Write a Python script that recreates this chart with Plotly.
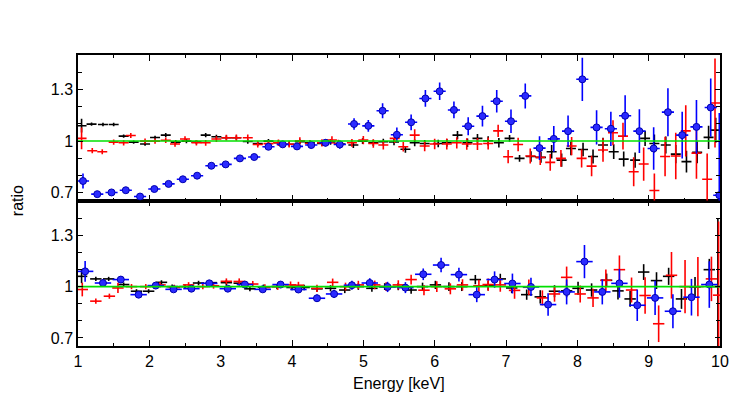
import plotly.graph_objects as go

# ---------------- top panel data ----------------
top_black_e = [1.05, 1.19, 1.35, 1.50, 1.64, 1.78, 1.94, 2.08, 2.23, 2.37, 2.52, 2.66, 2.79, 2.94, 3.08, 3.22,
               3.38, 3.52, 3.67, 3.81, 3.96, 4.11, 4.25, 4.42, 4.54, 4.68, 4.86, 4.99, 5.14, 5.28, 5.43, 5.59,
               5.72, 5.86, 6.05, 6.17, 6.32, 6.46, 6.60, 6.75, 6.90, 7.05, 7.19, 7.35, 7.49, 7.64, 7.78, 7.91,
               8.08, 8.22, 8.36, 8.51, 8.65, 8.81, 8.95, 9.08, 9.24, 9.38, 9.53, 9.68, 9.84, 9.94]
top_black_v = [1.090, 1.099, 1.097, 1.097, 1.029, 0.994, 0.983, 1.021, 1.035, 0.994, 1.000, 0.994, 1.035, 1.025, 1.020, 1.020,
               0.998, 0.985, 1.000, 0.990, 0.982, 0.996, 0.990, 0.986, 0.995, 0.983, 0.977, 1.000, 0.990, 0.996, 0.995, 0.952,
               0.990, 0.986, 0.986, 0.990, 1.035, 0.990, 1.016, 1.002, 0.990, 1.016, 0.899, 0.910, 0.905, 0.938, 0.889, 0.957,
               0.951, 0.910, 0.977, 0.938, 0.895, 0.889, 1.016, 0.986, 0.977, 0.924, 0.880, 0.934, 1.022, 1.064]
top_black_err = [0.04, 0.01, 0.01, 0.01, 0.01, 0.01, 0.01, 0.01, 0.012, 0.012, 0.012, 0.012, 0.012, 0.012, 0.012, 0.012,
                 0.013, 0.013, 0.013, 0.013, 0.014, 0.014, 0.015, 0.015, 0.016, 0.016, 0.017, 0.017, 0.018, 0.018, 0.019, 0.02,
                 0.02, 0.021, 0.022, 0.023, 0.024, 0.025, 0.026, 0.027, 0.028, 0.02, 0.02, 0.03, 0.032, 0.039, 0.039, 0.04,
                 0.04, 0.041, 0.042, 0.043, 0.044, 0.045, 0.044, 0.053, 0.05, 0.053, 0.063, 0.063, 0.068, 0.073]

top_red_e = [1.05, 1.20, 1.34, 1.50, 1.64, 1.74, 1.94, 2.08, 2.23, 2.36, 2.50, 2.66, 2.79, 2.94, 3.08, 3.22,
             3.38, 3.52, 3.67, 3.81, 3.96, 4.11, 4.25, 4.42, 4.56, 4.65, 4.84, 5.00, 5.14, 5.28, 5.44, 5.56,
             5.72, 5.86, 6.00, 6.17, 6.31, 6.45, 6.60, 6.75, 6.89, 7.03, 7.17, 7.34, 7.48, 7.62, 7.77, 7.92,
             8.06, 8.20, 8.36, 8.50, 8.64, 8.79, 8.93, 9.08, 9.23, 9.38, 9.52, 9.67, 9.82, 9.93]
top_red_v = [1.016, 0.944, 0.938, 0.994, 0.990, 1.033, 1.000, 1.000, 1.005, 0.983, 1.012, 0.990, 0.990, 1.012, 1.020, 1.020,
             1.020, 0.980, 0.985, 0.990, 0.982, 1.002, 0.986, 0.990, 1.006, 0.986, 0.990, 1.006, 0.986, 0.977, 1.016, 0.967,
             1.035, 0.971, 0.983, 0.983, 0.990, 0.983, 0.983, 0.986, 1.060, 0.909, 0.980, 0.913, 0.905, 0.876, 0.899, 0.971,
             0.899, 0.854, 0.948, 1.049, 1.029, 0.821, 0.866, 0.711, 0.910, 0.913, 1.060, 0.930, 0.777, 1.223]
top_red_err = [0.063, 0.015, 0.015, 0.015, 0.015, 0.015, 0.015, 0.015, 0.016, 0.016, 0.016, 0.016, 0.017, 0.017, 0.017, 0.018,
               0.018, 0.018, 0.019, 0.019, 0.02, 0.02, 0.021, 0.021, 0.022, 0.022, 0.023, 0.024, 0.025, 0.026, 0.027, 0.028,
               0.034, 0.03, 0.031, 0.032, 0.033, 0.034, 0.035, 0.035, 0.036, 0.039, 0.039, 0.044, 0.045, 0.049, 0.049, 0.053,
               0.053, 0.06, 0.068, 0.073, 0.078, 0.085, 0.097, 0.1, 0.116, 0.136, 0.15, 0.15, 0.15, 0.26]

top_blue_e = [1.07, 1.27, 1.47, 1.67, 1.87, 2.07, 2.27, 2.47, 2.67, 2.87, 3.07, 3.27, 3.47, 3.67, 3.87, 4.07,
              4.27, 4.47, 4.67, 4.87, 5.07, 5.27, 5.47, 5.67, 5.87, 6.07, 6.27, 6.47, 6.67, 6.87, 7.07, 7.27,
              7.47, 7.67, 7.87, 8.07, 8.27, 8.47, 8.67, 8.87, 9.07, 9.27, 9.47, 9.67, 9.87, 9.99]
top_blue_v = [0.767, 0.690, 0.700, 0.713, 0.676, 0.720, 0.750, 0.777, 0.798, 0.856, 0.864, 0.899, 0.907, 0.967, 0.981, 0.969,
              0.977, 0.990, 0.980, 1.100, 1.089, 1.177, 1.037, 1.110, 1.249, 1.291, 1.182, 1.087, 1.146, 1.233, 1.116, 1.264,
              0.959, 1.013, 1.058, 1.361, 1.080, 1.072, 1.148, 1.058, 0.957, 1.169, 1.035, 1.083, 1.196, 0.684]
top_blue_err = [0.044, 0.012, 0.012, 0.012, 0.012, 0.012, 0.012, 0.013, 0.013, 0.014, 0.014, 0.015, 0.015, 0.016, 0.017, 0.02,
                0.02, 0.022, 0.024, 0.034, 0.034, 0.044, 0.042, 0.046, 0.049, 0.051, 0.049, 0.053, 0.06, 0.066, 0.068, 0.073,
                0.07, 0.075, 0.092, 0.126, 0.1, 0.1, 0.12, 0.128, 0.124, 0.14, 0.136, 0.157, 0.17, 0.48]

# ---------------- bottom panel data ----------------
bot_black_e = [1.05, 1.25, 1.43, 1.64, 1.82, 1.99, 2.17, 2.32, 2.50, 2.69, 2.87, 3.08, 3.26, 3.41, 3.60, 3.79,
               4.00, 4.17, 4.35, 4.54, 4.74, 4.93, 5.12, 5.30, 5.49, 5.67, 5.83, 6.01, 6.20, 6.38, 6.57, 6.75,
               6.92, 7.08, 7.29, 7.48, 7.68, 7.85, 8.01, 8.20, 8.41, 8.57, 8.74, 8.93, 9.11, 9.28, 9.46, 9.65,
               9.85, 9.97]
bot_black_v = [1.060, 1.045, 1.045, 1.012, 0.973, 0.973, 1.025, 1.000, 1.000, 1.021, 1.023, 1.023, 1.020, 0.987, 0.997, 1.000,
               0.995, 0.995, 0.987, 0.990, 0.980, 1.000, 0.990, 1.000, 1.000, 0.980, 1.000, 1.010, 1.000, 1.000, 1.041, 1.005,
               1.045, 0.992, 0.953, 0.940, 0.973, 0.975, 0.990, 0.980, 1.037, 0.975, 0.928, 1.085, 1.035, 1.060, 0.928, 0.998,
               1.099, 1.000]
bot_black_err = [0.04, 0.012, 0.012, 0.012, 0.012, 0.012, 0.012, 0.012, 0.013, 0.013, 0.013, 0.014, 0.014, 0.014, 0.015, 0.015,
                 0.016, 0.016, 0.017, 0.018, 0.018, 0.019, 0.02, 0.02, 0.021, 0.022, 0.023, 0.024, 0.025, 0.026, 0.027, 0.028,
                 0.03, 0.03, 0.03, 0.039, 0.035, 0.037, 0.038, 0.039, 0.039, 0.05, 0.046, 0.046, 0.049, 0.05, 0.058, 0.058,
                 0.063, 0.4]

bot_red_e = [1.06, 1.25, 1.44, 1.56, 1.75, 1.95, 2.15, 2.35, 2.55, 2.75, 2.90, 3.08, 3.26, 3.45, 3.62, 3.80,
             3.98, 4.09, 4.35, 4.57, 4.75, 4.93, 5.16, 5.32, 5.49, 5.67, 5.85, 6.03, 6.22, 6.39, 6.62, 6.75,
             6.92, 7.12, 7.32, 7.51, 7.68, 7.85, 8.04, 8.22, 8.40, 8.59, 8.76, 8.95, 9.14, 9.32, 9.51, 9.69,
             9.88, 9.98]
bot_red_v = [0.983, 0.915, 0.944, 0.992, 1.000, 1.000, 1.010, 0.995, 1.010, 1.000, 1.005, 1.031, 1.030, 1.015, 0.995, 1.000,
             1.010, 1.008, 0.990, 1.025, 1.000, 1.010, 1.010, 1.000, 1.010, 1.041, 0.979, 1.000, 0.987, 1.010, 1.005, 1.012,
             1.010, 0.978, 0.996, 0.934, 0.957, 1.054, 0.957, 0.934, 1.037, 1.099, 0.980, 0.948, 0.783, 1.066, 1.000, 1.000,
             1.045, 0.950]
bot_red_err = [0.04, 0.015, 0.015, 0.03, 0.015, 0.015, 0.015, 0.016, 0.016, 0.016, 0.017, 0.017, 0.018, 0.018, 0.019, 0.019,
               0.02, 0.02, 0.021, 0.022, 0.023, 0.024, 0.025, 0.026, 0.027, 0.028, 0.03, 0.031, 0.032, 0.033, 0.035, 0.036,
               0.04, 0.049, 0.045, 0.044, 0.045, 0.063, 0.05, 0.053, 0.063, 0.083, 0.073, 0.107, 0.107, 0.136, 0.155, 0.173,
               0.13, 0.43]

bot_blue_e = [1.10, 1.35, 1.60, 1.85, 2.09, 2.34, 2.59, 2.84, 3.10, 3.34, 3.59, 3.84, 4.09, 4.35, 4.59, 4.84,
              5.09, 5.34, 5.59, 5.84, 6.09, 6.34, 6.59, 6.84, 7.09, 7.35, 7.59, 7.85, 8.10, 8.35, 8.59, 8.84,
              9.09, 9.34, 9.60, 9.85]
bot_blue_v = [1.089, 1.021, 1.041, 0.953, 1.006, 0.984, 0.988, 1.019, 0.988, 1.012, 0.984, 1.012, 0.983, 0.932, 0.957, 1.008,
              1.021, 0.998, 0.994, 1.072, 1.126, 1.070, 0.953, 1.041, 1.018, 0.998, 0.895, 0.969, 1.146, 0.969, 1.019, 0.891,
              0.934, 0.856, 0.938, 1.012]
bot_blue_err = [0.061, 0.02, 0.02, 0.015, 0.015, 0.015, 0.015, 0.016, 0.016, 0.017, 0.017, 0.018, 0.02, 0.022, 0.024, 0.026,
                0.028, 0.03, 0.032, 0.034, 0.042, 0.04, 0.044, 0.048, 0.058, 0.053, 0.066, 0.073, 0.097, 0.073, 0.084, 0.092,
                0.1, 0.1, 0.107, 0.136]

unity_x = [1, 10]
unity_y = [1, 1]

x_ticks = [1, 2, 3, 4, 5, 6, 7, 8, 9, 10]
y_ticks = [0.7, 1.0, 1.3]
y_tick_text = ["0.7", "1", "1.3"]

BLACK = "#000000"
RED = "#ff0000"
BLUE = "#0000ff"
GREEN = "#00e000"

FONT = "Liberation Sans Narrow, Liberation Sans, Arial, sans-serif"

fig = go.Figure()


def cross(x, y, err, xhalf, color, xa, ya):
    fig.add_trace(go.Scatter(
        x=x, y=y, mode="markers", xaxis=xa, yaxis=ya,
        marker=dict(size=1, color=color),
        error_y=dict(type="data", array=err, color=color, thickness=1.6, width=0),
        error_x=dict(type="constant", value=xhalf, color=color, thickness=1.6, width=0),
        showlegend=False, hoverinfo="x+y"))


def dots(x, y, err, xhalf, xa, ya):
    fig.add_trace(go.Scatter(
        x=x, y=y, mode="markers", xaxis=xa, yaxis=ya,
        marker=dict(size=7, color="#2a2aff", line=dict(color="#0000b0", width=1)),
        error_y=dict(type="data", array=err, color=BLUE, thickness=1.6, width=0),
        error_x=dict(type="constant", value=xhalf, color=BLUE, thickness=1.6, width=0),
        showlegend=False, hoverinfo="x+y"))


# top panel (x2, y2)
cross(top_black_e, top_black_v, top_black_err, 0.07, BLACK, "x2", "y2")
cross(top_red_e, top_red_v, top_red_err, 0.07, RED, "x2", "y2")
dots(top_blue_e, top_blue_v, top_blue_err, 0.085, "x2", "y2")
fig.add_trace(go.Scatter(x=unity_x, y=unity_y, mode="lines", xaxis="x2", yaxis="y2",
                         line=dict(color=GREEN, width=1.5), showlegend=False, hoverinfo="skip"))

# bottom panel (x, y)
cross(bot_black_e, bot_black_v, bot_black_err, 0.08, BLACK, "x", "y")
cross(bot_red_e, bot_red_v, bot_red_err, 0.08, RED, "x", "y")
dots(bot_blue_e, bot_blue_v, bot_blue_err, 0.115, "x", "y")
fig.add_trace(go.Scatter(x=unity_x, y=unity_y, mode="lines", xaxis="x", yaxis="y",
                         line=dict(color=GREEN, width=1.8), showlegend=False, hoverinfo="skip"))

axis_common = dict(showline=True, linecolor="black", linewidth=1.5, mirror="allticks",
                   ticks="inside", tickcolor="black", tickwidth=1, showgrid=False, zeroline=False)

fig.update_layout(
    width=747, height=403,
    margin=dict(l=70, r=35, t=47, b=65),
    paper_bgcolor="white", plot_bgcolor="white",
    font=dict(family=FONT, size=16, color="black"),
    xaxis=dict(domain=[0, 1], anchor="y", range=[1, 10], tickvals=x_ticks, ticklen=6,
               minor=dict(dtick=0.5, tick0=1, ticklen=3, ticks="inside", tickcolor="black"),
               **axis_common),
    yaxis=dict(domain=[0, 0.5], anchor="x", range=[0.653, 1.503], tickvals=y_ticks, ticktext=y_tick_text,
               ticklen=5, minor=dict(dtick=0.1, tick0=0.7, ticklen=4, ticks="inside", tickcolor="black"),
               **axis_common),
    xaxis2=dict(domain=[0, 1], anchor="y2", range=[1, 10], matches="x", tickvals=x_ticks, ticklen=6,
                showticklabels=False,
                minor=dict(dtick=0.5, tick0=1, ticklen=3, ticks="inside", tickcolor="black"),
                **axis_common),
    yaxis2=dict(domain=[0.5, 1], anchor="x2", range=[0.653, 1.503], tickvals=y_ticks, ticktext=y_tick_text,
                ticklen=5, minor=dict(dtick=0.1, tick0=0.7, ticklen=4, ticks="inside", tickcolor="black"),
                **axis_common),
    annotations=[
        dict(text="ratio", xref="paper", yref="paper", x=-0.094, y=0.5, textangle=-90,
             showarrow=False, xanchor="center", yanchor="middle", font=dict(family=FONT, size=16)),
        dict(text="Energy [keV]", xref="paper", yref="paper", x=0.5, y=-0.13,
             showarrow=False, xanchor="center", yanchor="middle", font=dict(family=FONT, size=16)),
    ],
)

fig.write_html("out.html")
